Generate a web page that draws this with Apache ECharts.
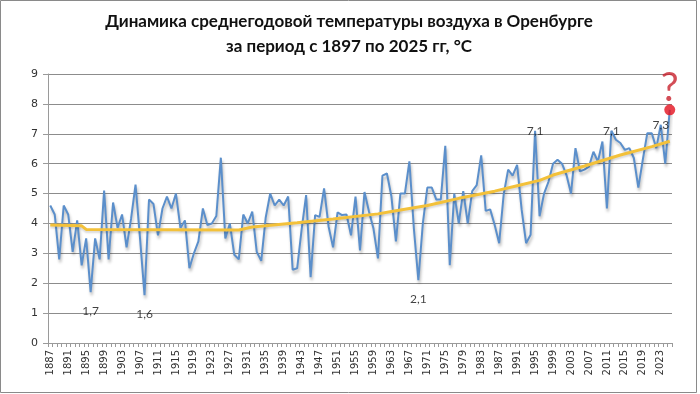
<!DOCTYPE html>
<html>
<head>
<meta charset="utf-8">
<script src="https://cdn.jsdelivr.net/npm/echarts@6/dist/echarts.min.js"></script>
<style>
html,body{margin:0;padding:0;background:#fff;}
#chart{width:700px;height:394px;}
</style>
</head>
<body>
<div id="chart"></div>
<script>
// ---- Data ----
var firstYear = 1887;
var lastYear = 2025;
var years = [];
for (var y = firstYear; y <= lastYear; y++) years.push(String(y));

// mean annual air temperature, °C (1887..2025)
var temps = [
  4.6, 4.3, 2.8, 4.6, 4.3, 3.05, 4.1, 2.6, 3.5, 1.7,      // 1887-1896
  3.5, 2.8, 5.1, 2.8, 4.7, 3.85, 4.3, 3.2, 4.15, 5.3,     // 1897-1906
  3.5, 1.6, 4.8, 4.65, 3.6, 4.5, 4.9, 4.5, 5.0, 3.85,     // 1907-1916
  4.1, 2.5, 3.0, 3.4, 4.5, 3.95, 4.0, 4.25, 6.2, 3.5,     // 1917-1926
  4.0, 2.95, 2.8, 4.3, 4.0, 4.4, 3.05, 2.75, 4.2, 5.0,    // 1927-1936
  4.6, 4.8, 4.6, 4.9, 2.45, 2.5, 3.8, 4.95, 2.2, 4.28,    // 1937-1946
  4.22, 5.17, 3.9, 3.2, 4.37, 4.28, 4.3, 3.6, 4.9, 3.1,   // 1947-1956
  5.05, 4.4, 3.83, 2.83, 5.6, 5.67, 4.9, 3.4, 5.0, 5.0,   // 1957-1966
  6.08, 3.83, 2.1, 4.0, 5.2, 5.2, 4.8, 4.8, 6.6, 2.6,     // 1967-1976
  5.0, 4.0, 5.08, 4.0, 5.08, 5.28, 6.28, 4.42, 4.47, 3.95, // 1977-1986
  3.34, 4.96, 5.8, 5.6, 5.96, 4.47, 3.34, 3.62, 7.1, 4.24, // 1987-1996
  5.0, 5.4, 6.0, 6.13, 6.0, 5.62, 5.0, 6.52, 5.74, 5.8,   // 1997-2006
  5.9, 6.4, 6.07, 6.74, 4.5, 7.1, 6.8, 6.69, 6.46, 6.52,  // 2007-2016
  6.19, 5.2, 6.13, 7.02, 7.02, 6.52, 7.3, 6.0, 7.8        // 2017-2025
];

// trend line, read at key years
var trendYears  = ['1887','1894','1895','1929','1932','1942','1950','1960','1963','1971','1978','1986','1991','1996','1999','2006','2014','2021','2025'];
var trendValues = [3.95, 3.92, 3.8, 3.78, 3.88, 4.02, 4.15, 4.32, 4.4, 4.6, 4.84, 5.08, 5.26, 5.44, 5.62, 5.92, 6.29, 6.57, 6.75];

// years with value labels
var labeledYears = ['1896','1908','1969','1995','2012','2023'];
var forecastYear = '2025';

var titleLines = ['Динамика среднегодовой температуры воздуха в Оренбурге', 'за период с 1897 по 2025 гг, °С'];
var yTicks = [0,1,2,3,4,5,6,7,8,9];

// ---- Chart ----
var FONT = 'Lato';
var chart = echarts.init(document.getElementById('chart'), null, {renderer: 'canvas'});

function fmt(v){ return v.toFixed(1).replace('.', ','); }

var trendData = trendYears.map(function(yr, i){ return [yr, trendValues[i]]; });
var labelData = labeledYears.map(function(yr){
  var v = temps[years.indexOf(yr)];
  return {
    value: [yr, v],
    label: {position: v < 4 ? 'bottom' : 'inside', distance: 12}
  };
});
var forecastData = [[forecastYear, temps[years.indexOf(forecastYear)]]];

var titleStyle = {fontFamily: FONT, fontSize: 17, fontWeight: 'bold', fill: '#111', textAlign: 'center', textVerticalAlign: 'middle'};

chart.setOption({
  animation: false,
  backgroundColor: '#fff',
  graphic: [
    {type: 'text', x: 349, y: 22, silent: true, style: Object.assign({text: titleLines[0]}, titleStyle)},
    {type: 'text', x: 349, y: 47, silent: true, style: Object.assign({text: titleLines[1]}, titleStyle)},
    {
      type: 'rect', z: 100, silent: true,
      shape: {x: 0.5, y: 0.5, width: 696, height: 392},
      style: {fill: 'none', stroke: '#8a8a8a', lineWidth: 1}
    }
  ],
  grid: {left: 48, right: 28, top: 74, bottom: 51, containLabel: false},
  xAxis: {
    type: 'category',
    data: years,
    boundaryGap: true,
    axisLine: {lineStyle: {color: '#9a9a9a'}},
    axisTick: {show: true, interval: 0, length: 4, lineStyle: {color: '#9a9a9a'}},
    axisLabel: {interval: 3, rotate: 90, fontFamily: 'DejaVu Sans', fontSize: 10, color: '#333', margin: 7}
  },
  yAxis: {
    type: 'value',
    min: yTicks[0],
    max: yTicks[yTicks.length - 1],
    interval: 1,
    axisLine: {show: true, lineStyle: {color: '#9a9a9a'}},
    axisTick: {show: true, length: 5, lineStyle: {color: '#9a9a9a'}},
    splitLine: {lineStyle: {color: '#8c8c8c', width: 1}},
    axisLabel: {fontFamily: 'DejaVu Sans', fontSize: 11, color: '#333', margin: 10}
  },
  series: [
    {
      name: 'temp',
      type: 'line',
      data: temps,
      symbol: 'none',
      lineStyle: {color: '#5B8FCB', width: 2, shadowColor: 'rgba(0,0,0,0.28)', shadowBlur: 3, shadowOffsetX: 1, shadowOffsetY: 3},
      z: 2
    },
    {
      name: 'trend',
      type: 'line',
      data: trendData,
      symbol: 'none',
      lineStyle: {color: '#F3C13A', width: 3, shadowColor: 'rgba(0,0,0,0.15)', shadowBlur: 2, shadowOffsetY: 2},
      z: 3
    },
    {
      name: 'labels',
      type: 'scatter',
      data: labelData,
      symbolSize: 1,
      itemStyle: {color: 'rgba(0,0,0,0)'},
      label: {show: true, formatter: function(p){ return fmt(p.value[1]); }, fontFamily: FONT, fontSize: 12, color: '#111'},
      z: 5
    },
    {
      name: 'forecast',
      type: 'scatter',
      data: forecastData,
      symbol: 'circle',
      symbolSize: 11,
      itemStyle: {color: '#E3101E'},
      label: {show: true, position: 'top', distance: -4, formatter: '?', fontFamily: FONT, fontSize: 40, color: '#C8202C'},
      z: 6
    }
  ]
});
</script>
</body>
</html>
